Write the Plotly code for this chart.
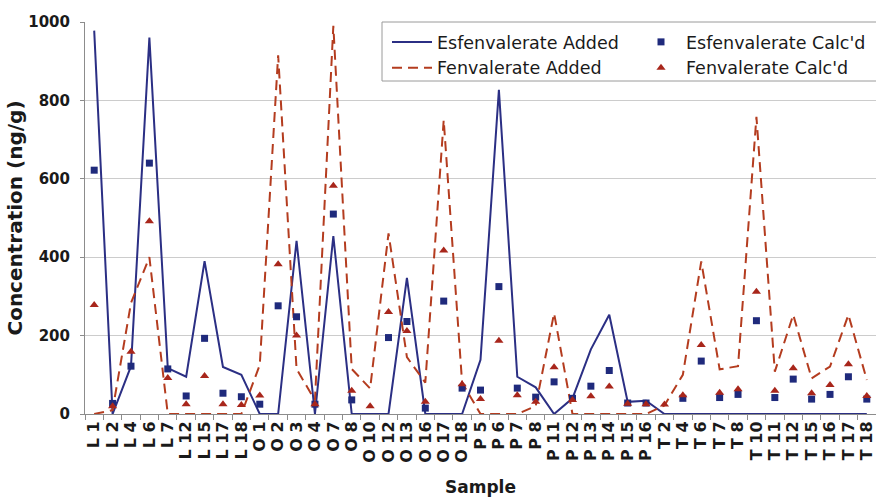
import plotly.graph_objects as go

samples = ["L 1","L 2","L 4","L 6","L 7","L 12","L 15","L 17","L 18",
           "O 1","O 2","O 3","O 4","O 7","O 8","O 10","O 12","O 13","O 16","O 17","O 18",
           "P 5","P 6","P 7","P 8","P 11","P 12","P 13","P 14","P 15","P 16",
           "T 2","T 4","T 6","T 7","T 8","T 10","T 11","T 12","T 15","T 16","T 17","T 18"]

esf_added = [978, 0, 122, 960, 117, 95, 390, 120, 100,
             0, 0, 442, 0, 454, 0, 0, 0, 347, 0, 0, 0,
             138, 827, 95, 68, 0, 40, 165, 253, 31, 34,
             0, 0, 0, 0, 0, 0, 0, 0, 0, 0, 0, 0]

fen_added = [0, 10, 283, 400, 0, 0, 0, 0, 0,
             125, 915, 115, 35, 990, 115, 65, 461, 145, 80, 750, 80,
             0, 0, 0, 20, 257, 0, 0, 0, 0, 0,
             22, 100, 389, 114, 122, 758, 108, 253, 91, 121, 253, 87]

esf_calc = [622, 27, 122, 640, 115, 46, 193, 53, 44,
            25, 276, 248, 25, 510, 36, None, 195, 236, 15, 288, 66,
            61, 325, 66, 43, 82, 40, 71, 111, 28, 28,
            None, 40, 135, 42, 50, 238, 42, 89, 38, 50, 95, 38]

fen_calc = [278, 20, 159, 492, 92, 25, 97, 25, 23,
            47, 382, 200, 25, 582, 59, 20, 260, 212, 31, 417, 76,
            38, 187, 48, 31, 119, 36, 45, 70, 26, 25,
            24, 48, 176, 54, 63, 312, 59, 117, 53, 74, 127, 46]

y_ticks = [0, 200, 400, 600, 800, 1000]

BLUE = "#2B2F84"
BLUE_M = "#1F2A7C"
RED = "#B43C1F"
RED_M = "#A8261B"
FONT = "DejaVu Sans, Arial, sans-serif"

W, H = 876, 497
ML, MR, MT, MB = 85, 0, 22, 83
PW, PH = W - ML - MR, H - MT - MB


def px_x(x):
    return (x - ML) / PW


def px_y(y):
    return (H - MB - y) / PH


fig = go.Figure()
fig.add_trace(go.Scatter(x=samples, y=esf_added, mode="lines", name="Esfenvalerate Added",
                         line=dict(color=BLUE, width=2), legend="legend"))
fig.add_trace(go.Scatter(x=samples, y=fen_added, mode="lines", name="Fenvalerate Added",
                         line=dict(color=RED, width=2, dash="10px,6px"), legend="legend"))
fig.add_trace(go.Scatter(x=samples, y=esf_calc, mode="markers", name="Esfenvalerate Calc'd",
                         marker=dict(symbol="square", size=7, color=BLUE_M), legend="legend2"))
fig.add_trace(go.Scatter(x=samples, y=fen_calc, mode="markers", name="Fenvalerate Calc'd",
                         marker=dict(symbol="triangle-up", size=8, color=RED_M), legend="legend2"))

leg_common = dict(orientation="v", yanchor="top", xanchor="left",
                  bgcolor="rgba(0,0,0,0)", borderwidth=0, itemwidth=40,
                  font=dict(size=17.5, color="#1a1a1a", family=FONT),
                  traceorder="normal", tracegroupgap=0)

fig.update_layout(
    width=W, height=H,
    margin=dict(l=ML, r=MR, t=MT, b=MB),
    paper_bgcolor="white", plot_bgcolor="white",
    font=dict(family=FONT, color="#1a1a1a"),
    showlegend=True,
    legend=dict(x=px_x(387), y=px_y(24), **leg_common),
    legend2=dict(x=px_x(636), y=px_y(24), **leg_common),
    shapes=[dict(type="rect", xref="paper", yref="paper",
                 x0=px_x(382), x1=1.02, y0=px_y(81), y1=px_y(22),
                 fillcolor="white", line=dict(color="#9a9a9a", width=1), layer="above")],
    xaxis=dict(
        type="category", categoryorder="array", categoryarray=samples,
        tickmode="array", tickvals=samples, ticktext=["<b>%s</b>" % s for s in samples],
        tickangle=-90, tickfont=dict(size=16, family=FONT),
        showgrid=False, showline=True, linecolor="#8c8c8c", linewidth=1,
        ticks="outside", ticklen=5, tickcolor="#8c8c8c", tickson="boundaries",
        title=dict(text="<b>Sample</b>", font=dict(size=17), standoff=20),
        range=[-0.5, 42.5], automargin=False,
    ),
    yaxis=dict(
        range=[0, 1000], tickmode="array", tickvals=y_ticks,
        ticktext=["<b>%d</b>" % v for v in y_ticks],
        tickfont=dict(size=15), ticklabelstandoff=7,
        showgrid=True, gridcolor="#cccccc", gridwidth=1,
        showline=True, linecolor="#8c8c8c", linewidth=1,
        ticks="outside", ticklen=4, tickcolor="#8c8c8c",
        zeroline=False,
        title=dict(text="<b>Concentration (ng/g)</b>", font=dict(size=20), standoff=0),
        automargin=False,
    ),
)

fig.write_html("out.html", config={"displayModeBar": False},
               post_script="document.body.style.margin='0px';document.body.style.padding='0px';")
